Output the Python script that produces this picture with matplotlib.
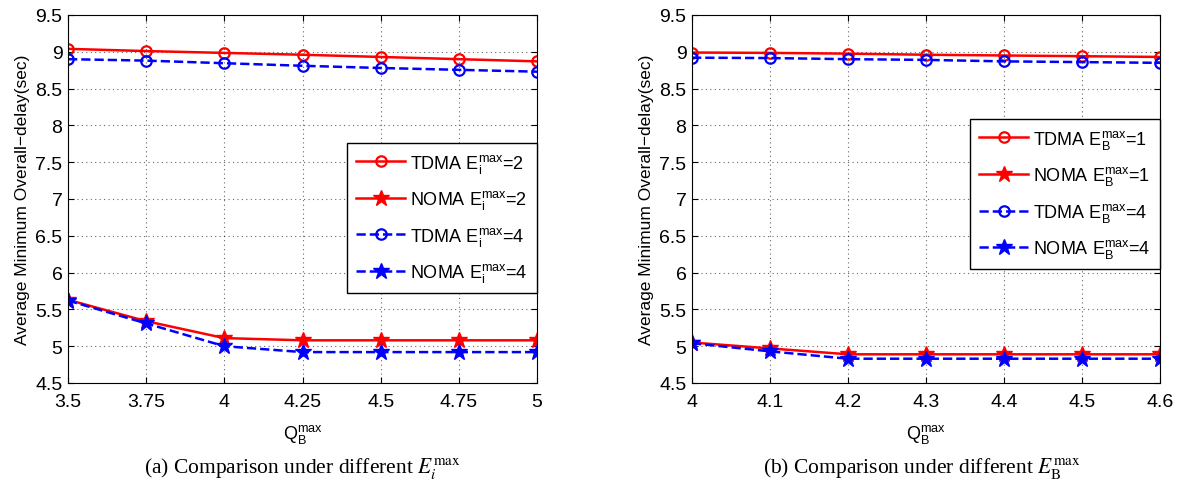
import numpy as np
import matplotlib.pyplot as plt

plt.rcParams['font.family'] = ['Liberation Sans', 'DejaVu Sans']

# (a) data
qa = [3.5, 3.75, 4, 4.25, 4.5, 4.75, 5]
tdma_a2 = [9.04, 9.01, 8.985, 8.96, 8.93, 8.90, 8.87]
noma_a2 = [5.63, 5.34, 5.11, 5.08, 5.08, 5.08, 5.08]
tdma_a4 = [8.90, 8.88, 8.845, 8.81, 8.78, 8.755, 8.73]
noma_a4 = [5.62, 5.31, 5.00, 4.92, 4.92, 4.92, 4.92]

# (b) data
qb = [4, 4.1, 4.2, 4.3, 4.4, 4.5, 4.6]
tdma_b1 = [8.99, 8.985, 8.975, 8.96, 8.95, 8.94, 8.93]
noma_b1 = [5.05, 4.97, 4.89, 4.89, 4.89, 4.89, 4.89]
tdma_b4 = [8.92, 8.915, 8.90, 8.89, 8.87, 8.86, 8.85]
noma_b4 = [5.04, 4.93, 4.83, 4.83, 4.83, 4.83, 4.83]

yticks = np.arange(4.5, 9.51, 0.5)
ytick_labels = ['4.5', '5', '5.5', '6', '6.5', '7', '7.5', '8', '8.5', '9', '9.5']

W, H = 1180, 485
fig = plt.figure(figsize=(11.8, 4.85), dpi=100)
ax1 = fig.add_axes([68/W, 1 - 384/H, 469/W, 368/H])
ax2 = fig.add_axes([692/W, 1 - 384/H, 468/W, 368/H])


def draw(ax, x, t1, n1, t4, n4, sub, v1, v4, xt_labels, leg_top):
    ax.plot(x, t1, '-', color='red', lw=1.8, marker='o', ms=7.5, mfc='none', mew=1.6,
            label=r'TDMA E$_\mathregular{%s}^\mathregular{max}$=%s' % (sub, v1))
    ax.plot(x, n1, '-', color='red', lw=1.8, marker='*', ms=12, mew=1,
            label=r'NOMA E$_\mathregular{%s}^\mathregular{max}$=%s' % (sub, v1))
    ax.plot(x, t4, '--', color='blue', lw=1.8, marker='o', ms=7.5, mfc='none', mew=1.6,
            label=r'TDMA E$_\mathregular{%s}^\mathregular{max}$=%s' % (sub, v4))
    ax.plot(x, n4, '--', color='blue', lw=1.8, marker='*', ms=12, mew=1,
            label=r'NOMA E$_\mathregular{%s}^\mathregular{max}$=%s' % (sub, v4))
    ax.set_xlim(x[0], x[-1])
    ax.set_ylim(4.5, 9.5)
    ax.set_xticks(x)
    ax.set_xticklabels(xt_labels, fontsize=14)
    ax.set_yticks(yticks)
    ax.set_yticklabels(ytick_labels, fontsize=14)
    ax.tick_params(direction='in', top=True, right=True, length=4)
    ax.tick_params(axis='x', pad=7)
    ax.tick_params(axis='y', pad=4)
    ax.grid(True, linestyle=(0, (1, 3)), color='black', lw=0.8, alpha=0.6)
    ax.set_xlabel(r'Q$_\mathregular{B}^\mathregular{max}$', fontsize=13, labelpad=9)
    ax.set_ylabel('Average Minimum Overall\u2212delay(sec)', fontsize=12.5, labelpad=4)
    leg = ax.legend(loc='upper right', bbox_to_anchor=(1, leg_top), borderaxespad=0,
                    fontsize=13, handlelength=2.7, handletextpad=0.3, labelspacing=0.75,
                    fancybox=False, framealpha=1, edgecolor='black', borderpad=0.5)
    leg.get_frame().set_linewidth(1)


draw(ax1, qa, tdma_a2, noma_a2, tdma_a4, noma_a4, 'i', 2, 4,
     ['3.5', '3.75', '4', '4.25', '4.5', '4.75', '5'], 0.653)
draw(ax2, qb, tdma_b1, noma_b1, tdma_b4, noma_b4, 'B', 1, 4,
     ['4', '4.1', '4.2', '4.3', '4.4', '4.5', '4.6'], 0.718)

fig.text(302/W, 1 - 469/H, r'(a) Comparison under different $E_i^{\rm max}$',
         ha='center', va='center', fontsize=15.5, family='Liberation Serif', math_fontfamily='stix')
fig.text(922/W, 1 - 469/H, r'(b) Comparison under different $E_{\rm B}^{\rm max}$',
         ha='center', va='center', fontsize=15.5, family='Liberation Serif', math_fontfamily='stix')

plt.savefig('out.png', dpi=100)
